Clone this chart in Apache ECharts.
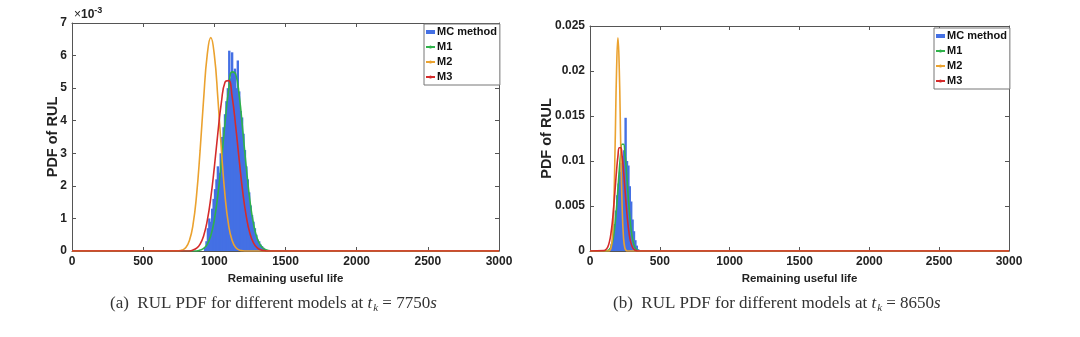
<!DOCTYPE html>
<html>
<head>
<meta charset="utf-8">
<script src="https://cdn.jsdelivr.net/npm/echarts@6/dist/echarts.min.js"></script>
<style>
html,body{margin:0;padding:0;background:#fff;}
#c{width:1080px;height:337px;}
</style>
</head>
<body>
<div id="c"></div>
<script>
// ---------- DATA ----------
const seriesNames = ['MC method', 'M1', 'M2', 'M3'];
const xTicks = [0, 500, 1000, 1500, 2000, 2500, 3000];

// (a) t_k = 7750 s  (y in units of 1e-3)
const gridXA = [0, 750, 775, 800, 825, 850, 875, 900, 925, 950, 975, 1000, 1025, 1050, 1075, 1100, 1125, 1150, 1175, 1200, 1225, 1250, 1275, 1300, 1325, 1350, 1375, 1400, 3000];
const m1A = [0, 0, 0, 0, 0, 0, 0, 0.027, 0.079, 0.205, 0.47, 0.957, 1.73, 2.76, 3.92, 4.93, 5.50, 5.43, 4.76, 3.69, 2.54, 1.55, 0.84, 0.40, 0.17, 0.064, 0.021, 0, 0];
const m2A = [0, 0.007, 0.03, 0.105, 0.32, 0.80, 1.71, 3.08, 4.68, 6.02, 6.55, 6.02, 4.68, 3.08, 1.71, 0.80, 0.32, 0.105, 0.03, 0.007, 0, 0, 0, 0, 0, 0, 0, 0, 0];
const m3A = [0, 0, 0, 0, 0, 0.03, 0.087, 0.213, 0.47, 0.925, 1.63, 2.57, 3.63, 4.58, 5.18, 5.23, 4.74, 3.83, 2.78, 1.80, 1.05, 0.54, 0.25, 0.105, 0.039, 0.013, 0, 0, 0];
const histBinsA = [935, 945, 955, 965, 975, 985, 995, 1005, 1015, 1025, 1035, 1045, 1055, 1065, 1075, 1085, 1095, 1105, 1115, 1125, 1135, 1145, 1155, 1165, 1175, 1185, 1195, 1205, 1215, 1225, 1235, 1245, 1255, 1265, 1275, 1285, 1295, 1305, 1315, 1325, 1335, 1345, 1355, 1365, 1375];
const histA = [0.1, 0.3, 0.7, 1.0, 0.9, 1.3, 1.6, 1.9, 2.2, 2.6, 2.4, 3.0, 3.5, 3.8, 4.2, 4.6, 5.0, 6.15, 5.3, 6.1, 5.5, 5.6, 5.0, 5.85, 4.9, 4.3, 4.1, 3.6, 3.1, 2.6, 2.2, 1.8, 1.4, 1.1, 0.9, 0.7, 0.5, 0.35, 0.3, 0.2, 0.15, 0.1, 0.06, 0.04, 0.02];
const yTicksA = [0, 1, 2, 3, 4, 5, 6, 7];

// (b) t_k = 8650 s
const gridXB = [0, 100, 110, 120, 130, 140, 150, 160, 170, 180, 190, 200, 210, 220, 230, 240, 250, 260, 270, 280, 290, 300, 310, 320, 330, 340, 350, 360, 3000];
const m1B = [0, 0, 0, 0.00003, 0.00008, 0.0002, 0.00045, 0.00094, 0.00176, 0.00304, 0.00479, 0.00688, 0.00904, 0.01084, 0.01186, 0.01186, 0.01084, 0.00904, 0.00688, 0.00479, 0.00304, 0.00176, 0.00094, 0.00045, 0.0002, 0.00008, 0.00003, 0, 0];
const m2B = [0, 0, 0, 0, 0.000005, 0.000047, 0.00031, 0.00149, 0.00499, 0.01186, 0.01994, 0.0237, 0.01994, 0.01186, 0.00499, 0.00149, 0.00031, 0.000047, 0.000005, 0, 0, 0, 0, 0, 0, 0, 0, 0, 0];
const m3B = [0, 0.000043, 0.00011, 0.00026, 0.00055, 0.00108, 0.00195, 0.00323, 0.00493, 0.00691, 0.00891, 0.01055, 0.01148, 0.01148, 0.01055, 0.00891, 0.00691, 0.00493, 0.00323, 0.00195, 0.00108, 0.00055, 0.00026, 0.00011, 0.000043, 0, 0, 0, 0];
const histBinsB = [145, 155, 165, 175, 185, 195, 205, 215, 225, 235, 245, 255, 265, 275, 285, 295, 305, 315, 325, 335, 345];
const histB = [0.0003, 0.0008, 0.0015, 0.003, 0.0045, 0.0062, 0.0075, 0.0088, 0.0098, 0.0105, 0.0112, 0.0148, 0.0100, 0.0095, 0.0072, 0.0055, 0.0035, 0.0022, 0.0012, 0.0006, 0.0002];
const yTicksB = [0, 0.005, 0.01, 0.015, 0.02, 0.025];

// ---------- STYLE ----------
const colors = { mc: '#4470e4', m1: '#2fb24a', m2: '#eba22f', m3: '#d42b2b' };
const axisFont = 'Liberation Sans, Arial, sans-serif';
const boxColor = '#555';

function pairs(xs, ys) { return xs.map((x, i) => [x, ys[i]]); }

const grids = [
  { left: 72, top: 23, width: 427, height: 228 },
  { left: 590, top: 26, width: 419, height: 225 }
];

function xAxes() {
  const base = {
    type: 'value', min: xTicks[0], max: xTicks[xTicks.length - 1], interval: 500,
    splitLine: { show: false },
    axisLine: { show: true, onZero: false, lineStyle: { color: boxColor, width: 1 } },
    axisTick: { show: true, inside: true, length: 4, lineStyle: { color: boxColor } }
  };
  return [
    Object.assign({}, base, {
      position: 'bottom',
      axisLabel: { show: true, margin: 5, color: '#222', fontFamily: axisFont, fontWeight: 'bold', fontSize: 12, formatter: v => String(v) },
      name: 'Remaining useful life', nameLocation: 'middle', nameGap: 19,
      nameTextStyle: { color: '#222', fontFamily: axisFont, fontWeight: 'bold', fontSize: 11.5 }
    }),
    Object.assign({}, base, { position: 'top', axisLabel: { show: false } })
  ];
}
function yAxes(ticks, interval, nameGap) {
  const base = {
    type: 'value', min: ticks[0], max: ticks[ticks.length - 1], interval: interval,
    splitLine: { show: false },
    axisLine: { show: true, onZero: false, lineStyle: { color: boxColor, width: 1 } },
    axisTick: { show: true, inside: true, length: 4, lineStyle: { color: boxColor } }
  };
  return [
    Object.assign({}, base, {
      position: 'left',
      axisLabel: { show: true, margin: 5, color: '#222', fontFamily: axisFont, fontWeight: 'bold', fontSize: 12, formatter: v => String(+v.toFixed(4)) },
      name: 'PDF of RUL', nameLocation: 'middle', nameGap: nameGap, nameMoveOverlap: false,
      nameTextStyle: { color: '#222', fontFamily: axisFont, fontWeight: 'bold', fontSize: 14.5 }
    }),
    Object.assign({}, base, { position: 'right', axisLabel: { show: false } })
  ];
}

function chartSeries(gi, bins, hist, gx, m1, m2, m3) {
  const xi = gi * 2, yi = gi * 2;
  const lineBase = { type: 'line', xAxisIndex: xi, yAxisIndex: yi, showSymbol: false, symbol: 'none', smooth: 0.5, z: 3 };
  return [
    { name: seriesNames[0], type: 'bar', xAxisIndex: xi, yAxisIndex: yi, barWidth: 2.4, data: pairs(bins, hist),
      itemStyle: { color: colors.mc }, z: 2 },
    Object.assign({}, lineBase, { name: seriesNames[1], data: pairs(gx, m1), lineStyle: { color: colors.m1, width: 1.6 }, itemStyle: { color: colors.m1 } }),
    Object.assign({}, lineBase, { name: seriesNames[2], data: pairs(gx, m2), lineStyle: { color: colors.m2, width: 1.6 }, itemStyle: { color: colors.m2 } }),
    Object.assign({}, lineBase, { name: seriesNames[3], data: pairs(gx, m3), lineStyle: { color: colors.m3, width: 1.6 }, itemStyle: { color: colors.m3 } })
  ];
}

function legendAt(left, top) {
  return {
    left: left, top: top, orient: 'vertical', selectedMode: false,
    backgroundColor: '#fff', borderColor: '#777', borderWidth: 1, borderRadius: 0,
    padding: [2, 3, 2, 1], itemGap: 3, itemWidth: 9, itemHeight: 4,
    textStyle: { color: '#111', fontFamily: axisFont, fontWeight: 'bold', fontSize: 11, lineHeight: 12, padding: [0, 0, 0, -3] },
    data: [
      { name: seriesNames[0], icon: 'rect' },
      { name: seriesNames[1] },
      { name: seriesNames[2] },
      { name: seriesNames[3] }
    ]
  };
}

const serif = 'Liberation Serif, Times New Roman, serif';
function caption(cx, label, tval) {
  return {
    type: 'text', left: cx, top: 295,
    style: {
      text: '{n|' + label + '  RUL PDF for different models at }{i|t}{s|k}{n| = ' + tval + '}{i|s}',
      rich: {
        n: { fontFamily: serif, fontSize: 17, fill: '#333' },
        i: { fontFamily: serif, fontSize: 17, fontStyle: 'italic', fill: '#333' },
        s: { fontFamily: serif, fontSize: 11, fontStyle: 'italic', fill: '#333', padding: [10, 0, 0, 1] }
      }
    }
  };
}

const xs = xAxes().concat(xAxes());
xs.forEach((a, i) => { a.gridIndex = i < 2 ? 0 : 1; });
const ys = yAxes(yTicksA, 1, 12).concat(yAxes(yTicksB, 0.005, 36));
ys.forEach((a, i) => { a.gridIndex = i < 2 ? 0 : 1; });

const chart = echarts.init(document.getElementById('c'), null, { renderer: 'canvas' });
chart.setOption({
  animation: false,
  backgroundColor: '#fff',
  grid: grids,
  xAxis: xs,
  yAxis: ys,
  legend: [legendAt(424, 24), legendAt(934, 28)],
  series: chartSeries(0, histBinsA, histA, gridXA, m1A, m2A, m3A)
    .concat(chartSeries(1, histBinsB, histB, gridXB, m1B, m2B, m3B)),
  graphic: [
    {
      type: 'text', left: 74, top: 6,
      style: {
        text: '{x|×}{t|10}{e|-3}',
        rich: {
          x: { fontFamily: axisFont, fontSize: 12, fill: '#222' },
          t: { fontFamily: axisFont, fontSize: 12, fontWeight: 'bold', fill: '#222' },
          e: { fontFamily: axisFont, fontSize: 9, fontWeight: 'bold', fill: '#222', padding: [0, 0, 8, 0] }
        }
      }
    },
    caption(110, '(a)', '7750'),
    caption(613, '(b)', '8650')
  ]
});
</script>
</body>
</html>
